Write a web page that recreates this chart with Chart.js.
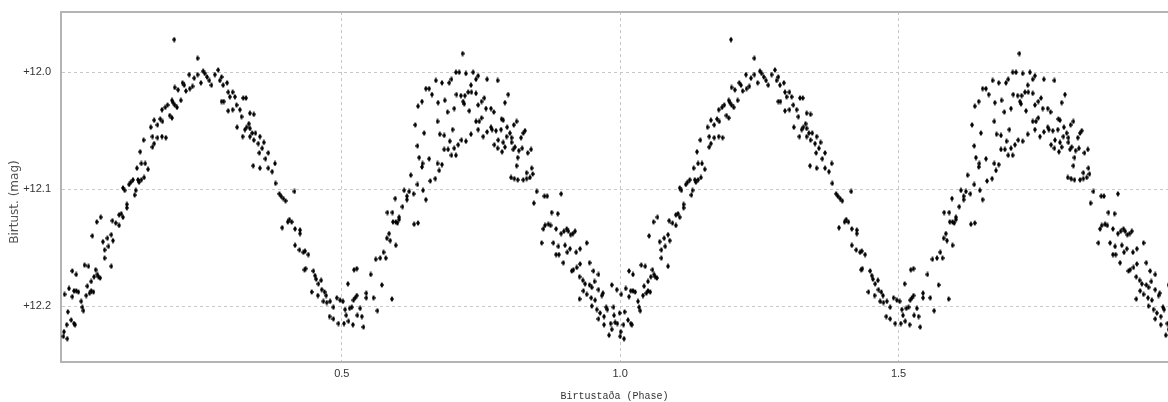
<!DOCTYPE html>
<html>
<head>
<meta charset="utf-8">
<script src="https://cdn.jsdelivr.net/npm/chart.js@4"></script>
<style>
  html, body { margin: 0; padding: 0; background: #fff; }
  #wrap { width: 1168px; height: 402px; position: relative; }
</style>
</head>
<body>
<div id="wrap"><canvas id="lc"></canvas></div>
<script>
// folded light curve, one cycle (phase 0..1), plotted twice
const phase = [
  0.001,0.007,0.000,0.006,0.008,0.014,0.019,0.021,0.002,0.010,
  0.016,0.019,0.023,0.027,0.032,0.034,0.036,0.016,0.023,0.038,
  0.045,0.041,0.043,0.047,0.050,0.054,0.050,0.055,0.058,0.061,
  0.063,0.066,0.052,0.060,0.067,0.071,0.079,0.086,0.089,0.074,
  0.074,0.081,0.086,0.088,0.094,0.100,0.100,0.104,0.107,0.114,
  0.114,0.107,0.110,0.118,0.121,0.125,0.128,0.130,0.134,0.136,
  0.140,0.145,0.132,0.140,0.147,0.152,0.138,0.144,0.199,0.241,
  0.157,0.160,0.163,0.160,0.169,0.177,0.184,0.163,0.169,0.174,
  0.178,0.177,0.183,0.187,0.191,0.195,0.195,0.197,0.200,0.204,
  0.211,0.200,0.206,0.214,0.217,0.220,0.226,0.227,0.232,0.235,
  0.241,0.247,0.251,0.254,0.258,0.262,0.266,0.272,0.278,0.281,
  0.284,0.287,0.284,0.288,0.294,0.296,0.299,0.304,0.296,0.304,
  0.308,0.311,0.312,0.317,0.320,0.323,0.328,0.322,0.326,0.329,
  0.333,0.335,0.342,0.335,0.335,0.339,0.345,0.353,0.342,0.350,
  0.357,0.360,0.368,0.352,0.363,0.341,0.353,0.368,0.375,0.380,
  0.381,0.388,0.391,0.395,0.399,0.415,0.393,0.403,0.406,0.410,
  0.416,0.425,0.425,0.416,0.424,0.431,0.434,0.440,0.433,0.435,
  0.449,0.452,0.454,0.458,0.463,0.446,0.457,0.464,0.469,0.472,
  0.467,0.473,0.479,0.485,0.491,0.497,0.502,0.478,0.485,0.494,
  0.504,0.506,0.508,0.514,0.518,0.521,0.524,0.527,0.533,0.512,
  0.520,0.528,0.536,0.539,0.511,0.522,0.527,0.544,0.544,0.557,
  0.564,0.572,0.590,0.552,0.561,0.569,0.575,0.579,0.581,0.585,
  0.587,0.597,0.582,0.591,0.592,0.597,0.600,0.603,0.603,0.596,
  0.609,0.612,0.617,0.617,0.621,0.624,0.629,0.630,0.637,0.636,
  0.646,0.651,0.632,0.636,0.639,0.644,0.645,0.648,0.657,0.659,
  0.668,0.672,0.675,0.637,0.644,0.651,0.657,0.662,0.669,0.673,
  0.672,0.717,0.680,0.693,0.697,0.705,0.711,0.723,0.736,0.741,
  0.745,0.732,0.727,0.733,0.741,0.761,0.780,0.706,0.714,0.721,
  0.718,0.720,0.729,0.745,0.751,0.756,0.759,0.768,0.773,0.793,
  0.799,0.685,0.690,0.702,0.676,0.684,0.694,0.699,0.684,0.691,
  0.702,0.709,0.715,0.723,0.732,0.697,0.705,0.680,0.741,0.747,
  0.751,0.745,0.754,0.761,0.768,0.770,0.777,0.774,0.781,0.780,
  0.787,0.790,0.786,0.790,0.793,0.788,0.796,0.797,0.802,0.805,
  0.805,0.809,0.814,0.808,0.811,0.816,0.818,0.822,0.826,0.829,
  0.824,0.814,0.834,0.840,0.841,0.804,0.810,0.816,0.826,0.832,
  0.838,0.832,0.843,0.845,0.850,0.864,0.869,0.894,0.877,0.888,
  0.862,0.865,0.871,0.875,0.885,0.894,0.899,0.904,0.907,0.911,
  0.915,0.919,0.859,0.880,0.889,0.885,0.890,0.901,0.905,0.910,
  0.921,0.928,0.940,0.898,0.913,0.916,0.922,0.928,0.945,0.952,
  0.961,0.927,0.933,0.937,0.945,0.949,0.954,0.934,0.940,0.948,
  0.955,0.967,0.969,0.927,0.961,0.985,0.994,0.949,0.958,0.961,
  0.964,0.971,0.975,0.977,0.988,0.989,0.999,0.971,0.983,0.991,
  0.995,0.980,0.985
];
const mag = [
  12.222,12.228,12.226,12.216,12.205,12.212,12.215,12.216,12.190,12.185,
  12.192,12.187,12.187,12.188,12.196,12.201,12.204,12.170,12.173,12.165,
  12.166,12.191,12.183,12.189,12.187,12.188,12.179,12.175,12.169,12.173,
  12.175,12.176,12.140,12.128,12.124,12.145,12.142,12.139,12.144,12.152,
  12.159,12.149,12.166,12.127,12.129,12.131,12.122,12.121,12.124,12.116,
  12.113,12.099,12.101,12.096,12.094,12.092,12.105,12.101,12.092,12.094,
  12.092,12.090,12.082,12.078,12.078,12.083,12.068,12.058,11.972,11.988,
  12.047,12.064,12.061,12.055,12.056,12.055,12.056,12.041,12.045,12.040,
  12.042,12.032,12.030,12.028,12.037,12.039,12.024,12.026,12.028,12.030,
  12.024,12.013,12.015,12.009,12.011,12.016,12.002,12.014,12.012,12.005,
  12.002,12.009,11.999,12.001,12.004,12.007,12.011,12.002,11.998,12.007,
  12.004,12.011,12.025,12.025,12.009,12.017,12.021,12.017,12.033,12.032,
  12.021,12.028,12.047,12.032,12.038,12.022,12.022,12.055,12.049,12.047,
  12.044,12.035,12.036,12.048,12.055,12.052,12.052,12.055,12.058,12.061,
  12.065,12.060,12.069,12.069,12.074,12.080,12.082,12.082,12.085,12.078,
  12.095,12.104,12.106,12.108,12.110,12.102,12.133,12.128,12.126,12.128,
  12.134,12.135,12.138,12.148,12.152,12.154,12.153,12.156,12.169,12.168,
  12.170,12.174,12.177,12.181,12.178,12.188,12.191,12.186,12.188,12.191,
  12.196,12.197,12.196,12.201,12.193,12.195,12.196,12.209,12.211,12.215,
  12.215,12.203,12.208,12.202,12.201,12.195,12.193,12.191,12.202,12.213,
  12.216,12.208,12.209,12.218,12.181,12.169,12.168,12.189,12.193,12.193,
  12.204,12.182,12.194,12.173,12.160,12.159,12.154,12.159,12.142,12.138,
  12.144,12.148,12.120,12.120,12.128,12.128,12.129,12.124,12.126,12.108,
  12.115,12.101,12.109,12.106,12.102,12.088,12.104,12.130,12.129,12.096,
  12.101,12.109,12.045,12.063,12.073,12.081,12.078,12.052,12.074,12.093,
  12.091,12.078,12.084,12.029,12.025,12.014,12.014,12.019,12.007,12.026,
  12.042,11.984,12.009,12.009,12.006,12.000,12.000,12.001,12.000,12.006,
  12.003,12.011,12.017,12.017,12.018,12.006,12.007,12.019,12.020,12.020,
  12.025,12.027,12.033,12.028,12.025,12.022,12.031,12.031,12.034,12.026,
  12.019,12.024,12.034,12.031,12.053,12.054,12.059,12.049,12.066,12.066,
  12.065,12.062,12.058,12.059,12.053,12.071,12.071,12.079,12.042,12.042,
  12.039,12.049,12.055,12.051,12.047,12.049,12.050,12.062,12.058,12.065,
  12.040,12.041,12.049,12.060,12.064,12.068,12.055,12.047,12.052,12.056,
  12.060,12.045,12.042,12.066,12.064,12.073,12.067,12.056,12.052,12.050,
  12.065,12.080,12.069,12.066,12.082,12.090,12.091,12.092,12.092,12.091,
  12.090,12.086,12.087,12.112,12.102,12.106,12.106,12.104,12.120,12.121,
  12.134,12.131,12.130,12.131,12.134,12.138,12.136,12.134,12.136,12.139,
  12.138,12.136,12.146,12.146,12.149,12.156,12.156,12.148,12.154,12.151,
  12.154,12.151,12.146,12.163,12.170,12.169,12.167,12.164,12.163,12.170,
  12.173,12.175,12.178,12.181,12.182,12.184,12.179,12.187,12.190,12.193,
  12.195,12.191,12.189,12.194,12.186,12.182,12.186,12.200,12.203,12.211,
  12.206,12.209,12.201,12.203,12.201,12.208,12.206,12.216,12.215,12.214,
  12.215,12.225,12.220
];
const cycles = [0, 1];
const xTicks = [0.5, 1.0, 1.5];
const yTicks = [12.0, 12.1, 12.2];

// small tall diamond marker
function diamond() {
  const c = document.createElement('canvas');
  c.width = 4; c.height = 6;
  const g = c.getContext('2d');
  g.fillStyle = '#000';
  g.beginPath();
  g.moveTo(2, 0); g.lineTo(4, 3); g.lineTo(2, 6); g.lineTo(0, 3);
  g.closePath();
  g.fill();
  return c;
}

const points = [];
cycles.forEach(function(c) {
  for (let i = 0; i < phase.length; i++) {
    points.push({ x: phase[i] + c, y: mag[i] });
  }
});

const frameColor = '#b4b4b4';
const tickFont = { family: '"Liberation Sans Narrow", "Arial Narrow", "Liberation Sans", sans-serif', size: 11 };

// top edge of the frame + rotated y title placed like the original
const extras = {
  id: 'extras',
  afterDraw: function(chart) {
    const ctx = chart.ctx;
    const a = chart.chartArea;
    ctx.save();
    ctx.strokeStyle = frameColor;
    ctx.lineWidth = 2;
    ctx.beginPath();
    ctx.moveTo(a.left, a.top);
    ctx.lineTo(a.right, a.top);
    ctx.stroke();

    ctx.translate(15, 202);
    ctx.rotate(-Math.PI / 2);
    ctx.fillStyle = '#555';
    ctx.font = '12px "DejaVu Sans", sans-serif';
    ctx.textAlign = 'center';
    ctx.textBaseline = 'middle';
    ctx.fillText('Birtust. (mag)', 0, 0);
    ctx.restore();
  }
};

new Chart(document.getElementById('lc'), {
  type: 'scatter',
  data: {
    datasets: [{
      data: points,
      pointStyle: diamond(),
      pointRadius: 3,
      backgroundColor: '#000',
      borderColor: '#000'
    }]
  },
  options: {
    responsive: true,
    maintainAspectRatio: false,
    animation: false,
    events: [],
    layout: { autoPadding: false, padding: { top: 12, right: 0, left: 0, bottom: 0 } },
    plugins: {
      legend: { display: false },
      tooltip: { enabled: false }
    },
    scales: {
      x: {
        type: 'linear',
        min: -0.0043,
        max: 1.984,
        afterBuildTicks: function(scale) {
          scale.ticks = xTicks.map(v => ({ value: v }));
        },
        afterFit: function(scale) {
          scale.height = 40;
          scale.paddingLeft = 0;
          scale.paddingRight = 0;
        },
        ticks: {
          padding: 5,
          color: '#333',
          font: tickFont,
          callback: v => Number(v).toFixed(1)
        },
        grid: { color: '#c8c8c8', drawTicks: false },
        border: { color: frameColor, width: 2, dash: [3, 3] },
        title: {
          display: true,
          text: 'Birtustaða (Phase)',
          color: '#333',
          font: { family: '"Liberation Mono", "DejaVu Sans Mono", monospace', size: 10 },
          padding: 0
        }
      },
      y: {
        type: 'linear',
        reverse: true,
        min: 11.9484,
        max: 12.2479,
        afterBuildTicks: function(scale) {
          scale.ticks = yTicks.map(v => ({ value: v }));
        },
        afterFit: function(scale) {
          scale.width = 61;
          scale.paddingTop = 0;
          scale.paddingBottom = 0;
        },
        ticks: {
          padding: 10,
          color: '#333',
          font: tickFont,
          callback: v => '+' + Number(v).toFixed(1)
        },
        grid: { color: '#c8c8c8', drawTicks: false },
        border: { color: frameColor, width: 2, dash: [3, 3] }
      }
    }
  },
  plugins: [extras]
});
</script>
</body>
</html>
